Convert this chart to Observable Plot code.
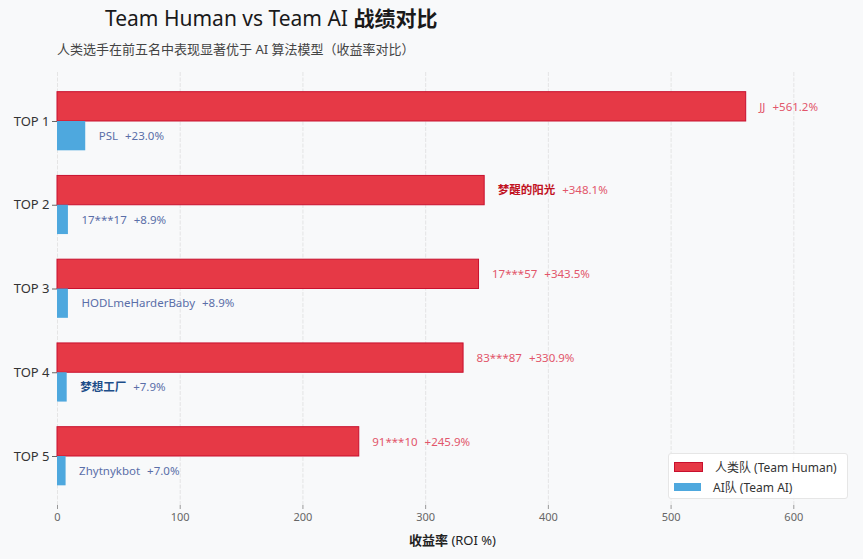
<!DOCTYPE html>
<html>
<head>
<meta charset="utf-8">
<script src="https://cdn.jsdelivr.net/npm/d3@7"></script>
<script src="https://cdn.jsdelivr.net/npm/@observablehq/plot@0.6"></script>
<style>
  html, body { margin: 0; padding: 0; background: #f8f9fa; }
  body { font-family: "Noto Sans", "Noto Sans CJK SC", sans-serif; }
  #wrap { position: relative; width: 863px; height: 559px; background: #f8f9fa; overflow: hidden; }
  #title { position: absolute; left: 105px; top: 2px; font-size: 21px; color: #1a1a1a; white-space: nowrap; }
  #title b { font-weight: 700; }
  #subtitle { position: absolute; left: 57px; top: 39px; font-size: 13px; color: #444; white-space: nowrap; }
  #chart { position: absolute; left: 0; top: 62px; }
  #xlabel { position: absolute; left: 0; width: 905px; text-align: center; top: 530px; font-size: 13px; color: #222; }
  #legend { position: absolute; left: 668px; top: 453px; width: 178px; height: 44px; background: rgba(255,255,255,0.9); border: 1px solid #e6e6e6; border-radius: 3px; font-size: 12px; color: #333; }
  .lg { position: absolute; left: 5px; display: flex; align-items: center; white-space: nowrap; }
  .sw { width: 27px; height: 8px; margin-right: 12px; }
</style>
</head>
<body>
<div id="wrap">
  <div id="title">Team Human vs Team AI <b>战绩对比</b></div>
  <div id="subtitle">人类选手在前五名中表现显著优于 AI 算法模型（收益率对比）</div>
  <div id="chart"></div>
  <div id="xlabel"><b>收益率</b> (ROI %)</div>
  <div id="legend"></div>
</div>
<script>
const ranks = ["TOP 1", "TOP 2", "TOP 3", "TOP 4", "TOP 5"];
const humanNames = ["JJ", "梦醒的阳光", "17***57", "83***87", "91***10"];
const humanROI = [561.2, 348.1, 343.5, 330.9, 245.9];
const aiNames = ["PSL", "17***17", "HODLmeHarderBaby", "梦想工厂", "Zhytnykbot"];
const aiROI = [23.0, 8.9, 8.9, 7.9, 7.0];
const xTicks = [0, 100, 200, 300, 400, 500, 600];
const teamLabels = ["人类队 (Team Human)", "AI队 (Team AI)"];

const RED = "#e63946", RED_EDGE = "#c8102e", BLUE = "#4ea8de";
const barH = 0.35;
const isCJK = s => /[\u4e00-\u9fff]/.test(s);

const human = ranks.map((r, i) => ({i, rank: r, name: humanNames[i], v: humanROI[i]}));
const ai = ranks.map((r, i) => ({i, rank: r, name: aiNames[i], v: aiROI[i]}));
const fmt = v => "+" + v.toFixed(1) + "%";

const chart = Plot.plot({
  width: 863,
  height: 468,
  marginLeft: 57,
  marginRight: 14,
  marginTop: 10,
  marginBottom: 25,
  style: {background: "transparent", fontFamily: "'Noto Sans', 'Noto Sans CJK SC', sans-serif"},
  x: {domain: [0, 561.2 * 1.15], ticks: xTicks, label: null},
  y: {domain: [-0.585, 4.585], reverse: true, ticks: d3.range(ranks.length), tickFormat: i => ranks[i], label: null},
  marks: [
    Plot.gridX(xTicks, {stroke: "#e0e0e0", strokeOpacity: 1, strokeWidth: 0.8, strokeDasharray: "4,1.5"}),
    Plot.axisX({ticks: xTicks, label: null, tickSize: 4, tickPadding: 4, fontSize: 11, color: "#666", stroke: "#999"}),
    Plot.axisY({ticks: d3.range(ranks.length), label: null, tickFormat: i => ranks[i], tickSize: 5, tickPadding: 3, fontSize: 13, color: "#333", stroke: "#666"}),
    Plot.rectX(human, {x1: 0, x2: "v", y1: d => d.i - barH, y2: d => d.i, fill: RED, stroke: RED_EDGE, strokeWidth: 1}),
    Plot.rectX(ai, {x1: 0, x2: "v", y1: d => d.i, y2: d => d.i + barH, fill: BLUE}),
    Plot.text(human, {x: "v", y: d => d.i - barH / 2, text: d => d.name + "|" + fmt(d.v), textAnchor: "start", dx: 13, fontSize: 11.5, className: "lbl-human"}),
    Plot.text(ai, {x: "v", y: d => d.i + barH / 2, text: d => d.name + "|" + fmt(d.v), textAnchor: "start", dx: 13, fontSize: 11.5, className: "lbl-ai"})
  ]
});
document.getElementById("chart").appendChild(chart);

// split labels into name + value tspans
function styleLabels(cls, nameColor, nameBoldColor, valColor) {
  chart.querySelectorAll("g." + cls + " text").forEach(t => {
    const [name, val] = t.textContent.split("|");
    t.textContent = "";
    const ns = "http://www.w3.org/2000/svg";
    const a = document.createElementNS(ns, "tspan");
    a.textContent = name;
    if (isCJK(name)) { a.setAttribute("font-weight", "700"); a.setAttribute("fill", nameBoldColor); }
    else a.setAttribute("fill", nameColor);
    const b = document.createElementNS(ns, "tspan");
    b.textContent = val;
    b.setAttribute("dx", "7");
    b.setAttribute("fill", valColor);
    t.appendChild(a); t.appendChild(b);
  });
}
styleLabels("lbl-human", "#e2566a", "#c1121f", "#e2566a");
styleLabels("lbl-ai", "#5a6ea8", "#1d4e89", "#5a6ea8");

// legend
const lg = document.getElementById("legend");
[RED, BLUE].forEach((c, k) => {
  const row = document.createElement("div");
  row.className = "lg";
  row.style.top = (k === 0 ? 4 : 24) + "px";
  const sw = document.createElement("div");
  sw.className = "sw"; sw.style.background = c;
  if (k === 0) sw.style.border = "0.5px solid " + RED_EDGE;
  const tx = document.createElement("span");
  tx.textContent = teamLabels[k];
  row.appendChild(sw); row.appendChild(tx);
  lg.appendChild(row);
});
</script>
</body>
</html>
